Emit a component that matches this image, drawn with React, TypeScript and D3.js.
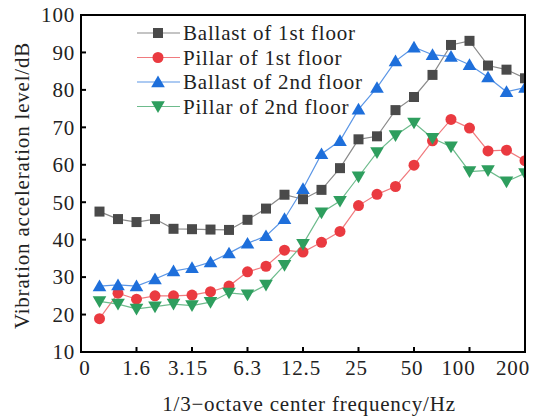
import React from "react";
import * as d3 from "d3";

const bandIndex = d3.range(1, 25);
const tickLabels = ["0", "1.6", "3.15", "6.3", "12.5", "25", "50", "100", "200"];
const yTicks = [10, 20, 30, 40, 50, 60, 70, 80, 90, 100];

const ballast1 = [47.5, 45.5, 44.7, 45.5, 42.9, 42.8, 42.7, 42.6, 45.3, 48.3, 52.0, 50.8, 53.3, 59.1, 66.8, 67.6, 74.6, 78.1, 84.0, 92.0, 93.1, 86.5, 85.4, 83.1];
const pillar1 = [18.9, 25.7, 24.1, 25.0, 25.0, 25.2, 26.1, 27.6, 31.4, 32.9, 37.2, 36.7, 39.3, 42.2, 49.1, 52.1, 54.2, 59.9, 66.4, 72.1, 69.8, 63.7, 63.9, 61.1];
const ballast2 = [27.6, 27.9, 27.6, 29.5, 31.6, 32.5, 34.0, 36.4, 39.0, 41.0, 45.6, 53.6, 62.9, 66.4, 74.8, 80.6, 87.7, 91.4, 89.4, 88.9, 86.7, 83.4, 79.5, 80.6];
const pillar2 = [23.5, 22.8, 21.5, 22.1, 22.8, 22.4, 23.3, 25.8, 25.3, 27.9, 33.2, 38.8, 47.2, 50.3, 56.8, 63.3, 67.8, 71.2, 67.1, 64.8, 58.2, 58.5, 55.5, 57.7];

const seriesNames = ["Ballast of 1st floor", "Pillar of 1st floor", "Ballast of 2nd floor", "Pillar of 2nd floor"];

const series = [
  { name: seriesNames[0], values: ballast1, marker: "square", color: "#4a4a4a", line: "#8a8a8a" },
  { name: seriesNames[1], values: pillar1, marker: "circle", color: "#ea3a40", line: "#f07a7e" },
  { name: seriesNames[2], values: ballast2, marker: "triangle", color: "#1e6fdb", line: "#5b96e6" },
  { name: seriesNames[3], values: pillar2, marker: "triangleDown", color: "#2e9e5e", line: "#6dbb8c" },
];

// layout: horizontal nudges of x tick labels, as drawn in the reference
const labelNudge = [4, 0, -4, 0, -2, -2, -2, -11, -12];

const W = 540, H = 417;
const left = 81, right = 525, top = 15, bottom = 352;
const FONT = "'Liberation Serif', 'Times New Roman', serif";
const FS = 21;
const LS = 0.8;

function Marker({ type, x, y, color }: { type: string; x: number; y: number; color: string }) {
  if (type === "square") return <rect x={x - 5} y={y - 5} width={10} height={10} fill={color} />;
  if (type === "circle") return <circle cx={x} cy={y} r={5.5} fill={color} />;
  if (type === "triangle") {
    const s = 6.5;
    return <path d={`M${x},${y - s}L${x + s * 1.05},${y + s * 0.8}L${x - s * 1.05},${y + s * 0.8}Z`} fill={color} />;
  }
  const s = 6.5;
  return <path d={`M${x},${y + s}L${x + s * 1.05},${y - s * 0.8}L${x - s * 1.05},${y - s * 0.8}Z`} fill={color} />;
}

export default function App() {
  const x = d3.scaleLinear().domain([0, 24]).range([left, right]);
  const y = d3.scaleLinear().domain([10, 100]).range([bottom, top]);
  const line = d3.line<number>().x((_, i) => x(bandIndex[i])).y((d) => y(d));

  return (
    <svg width={W} height={H} style={{ position: "absolute", left: 0, top: 0, background: "#fff" }} fontFamily={FONT}>
      <defs>
        <clipPath id="plot">
          <rect x={left} y={top} width={right - left} height={bottom - top} />
        </clipPath>
      </defs>
      <rect x={0} y={0} width={W} height={H} fill="#fff" />
      <g clipPath="url(#plot)">
        {series.map((s) => (
          <path key={s.name} d={line(s.values) || ""} fill="none" stroke={s.line} strokeWidth={1.2} />
        ))}
        {series.map((s) =>
          s.values.map((v, i) => (
            <Marker key={s.name + i} type={s.marker} x={x(bandIndex[i])} y={y(v)} color={s.color} />
          ))
        )}
      </g>
      <rect x={left} y={top} width={right - left} height={bottom - top} fill="none" stroke="#000" strokeWidth={2} />
      {yTicks.map((t) => (
        <g key={t}>
          {t > 10 && t < 100 && <line x1={left} x2={left + 5} y1={y(t)} y2={y(t)} stroke="#000" strokeWidth={2} />}
          <text x={left - 6} y={y(t)} dy="0.35em" textAnchor="end" fontSize={FS} letterSpacing={LS} fill="#222">{t}</text>
        </g>
      ))}
      {tickLabels.map((t, i) => (
        <g key={t}>
          {i > 0 && i < tickLabels.length - 1 && (
            <line x1={x(i * 3)} x2={x(i * 3)} y1={bottom} y2={bottom - 5} stroke="#000" strokeWidth={2} />
          )}
          <text x={x(i * 3) + labelNudge[i]} y={bottom + 23} textAnchor="middle" fontSize={FS} letterSpacing={LS} fill="#222">{t}</text>
        </g>
      ))}
      <text x={(left + right) / 2 + 6} y={411} textAnchor="middle" fontSize={FS} letterSpacing={LS} fill="#222">1/3−octave center frequency/Hz</text>
      <text transform={`translate(29,${(top + bottom) / 2 + 2}) rotate(-90)`} textAnchor="middle" fontSize={FS} letterSpacing={LS} fill="#222">Vibration acceleration level/dB</text>
      {series.map((s, i) => {
        const ly = 33 + i * 24.5;
        return (
          <g key={s.name}>
            <line x1={137} x2={180} y1={ly} y2={ly} stroke={s.line} strokeWidth={1.2} />
            <Marker type={s.marker} x={158} y={ly} color={s.color} />
            <text x={183} y={ly} dy="0.35em" fontSize={FS} letterSpacing={LS} fill="#222">{s.name}</text>
          </g>
        );
      })}
    </svg>
  );
}
